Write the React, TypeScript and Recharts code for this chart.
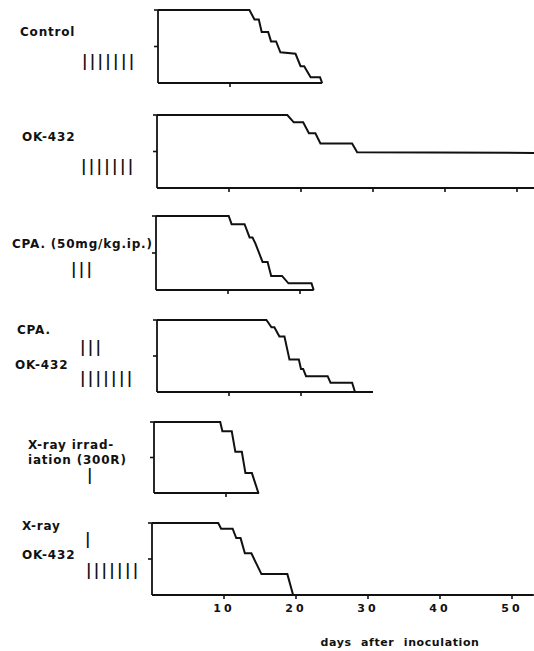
import React from 'react';
import { LineChart, Line, XAxis, YAxis } from 'recharts';

const FONT = '"DejaVu Sans", Verdana, sans-serif';
const INK = '#111';
const PX_PER_DAY = 7.2;

// survival (% alive), corner points of each step
const controlDays = [0, 12.7, 13.4, 14.0, 14.4, 15.3, 15.7, 16.4, 17.0, 19.1, 19.8, 20.3, 21.2, 22.5, 22.8];
const controlSurv = [100, 100, 87, 87, 70, 70, 57, 57, 42, 40, 23, 23, 8, 8, 0];

const okDays = [0, 18.1, 19.0, 20.3, 21.1, 22.0, 22.7, 27.1, 27.8, 52.4];
const okSurv = [100, 100, 90, 90, 75, 75, 61, 61, 49, 48];

const cpaDays = [0, 10.1, 10.5, 12.3, 13.0, 13.4, 13.8, 14.8, 15.5, 16.0, 17.5, 18.4, 21.6, 21.9];
const cpaSurv = [100, 100, 89, 89, 71, 71, 63, 38, 38, 19, 19, 9, 9, 0];

const cpaOkDays = [0, 15.2, 15.9, 16.3, 17.0, 17.7, 18.4, 19.7, 20.0, 20.3, 20.7, 23.7, 24.1, 27.1, 27.5];
const cpaOkSurv = [100, 100, 90, 90, 77, 77, 45, 45, 32, 32, 22, 22, 13, 13, 0];

const xrayDays = [0, 9.2, 9.5, 10.8, 11.3, 12.2, 12.7, 13.6, 14.5];
const xraySurv = [100, 100, 87, 87, 58, 58, 28, 28, 0];

const xrayOkDays = [0, 9.2, 9.6, 11.2, 11.7, 12.3, 12.9, 13.8, 15.2, 18.8, 19.6, 53];
const xrayOkSurv = [100, 100, 92, 92, 79, 79, 58, 58, 29, 29, 0, 0];

const dayTicks = [10, 20, 30, 40, 50];
const survTicks = [50, 100];

const regimenLabels = [
  { text: 'Control', x: 20, cy: 32 },
  { text: 'OK-432', x: 22, cy: 137 },
  { text: 'CPA. (50mg/kg.ip.)', x: 12, cy: 244 },
  { text: 'CPA.', x: 17, cy: 330 },
  { text: 'OK-432', x: 15, cy: 365 },
  { text: 'X-ray irrad-', x: 28, cy: 445 },
  { text: 'iation (300R)', x: 28, cy: 460 },
  { text: 'X-ray', x: 22, cy: 526 },
  { text: 'OK-432', x: 22, cy: 555 },
];

// number of treatment doses drawn as bars
const doseMarks = [
  { n: 7, x: 82, cy: 62.5 },
  { n: 7, x: 81, cy: 167.5 },
  { n: 3, x: 71, cy: 270 },
  { n: 3, x: 80, cy: 348.5 },
  { n: 7, x: 80, cy: 379.5 },
  { n: 1, x: 87, cy: 476.5 },
  { n: 1, x: 85, cy: 540 },
  { n: 7, x: 86, cy: 571 },
];

const toRows = (days: number[], surv: number[]) =>
  days.map((d, i) => ({ day: d, surv: surv[i] }));

const panels = [
  { id: 'control', days: controlDays, surv: controlSurv, axisX: 158, top: 10, bottom: 83, maxDay: 22.8, ticks: [10] },
  { id: 'ok', days: okDays, surv: okSurv, axisX: 157, top: 115, bottom: 188, maxDay: 52.4, ticks: dayTicks },
  { id: 'cpa', days: cpaDays, surv: cpaSurv, axisX: 156, top: 216, bottom: 290, maxDay: 21.9, ticks: [10, 20] },
  { id: 'cpaok', days: cpaOkDays, surv: cpaOkSurv, axisX: 157, top: 320, bottom: 392, maxDay: 30, ticks: [10, 20] },
  { id: 'xray', days: xrayDays, surv: xraySurv, axisX: 154, top: 422, bottom: 493, maxDay: 14.6, ticks: [10] },
  { id: 'xrayok', days: xrayOkDays, surv: xrayOkSurv, axisX: 152, top: 523, bottom: 595, maxDay: 53, ticks: dayTicks, labels: true },
];

const tickStyle = { fill: INK, fontSize: 11, fontWeight: 700, fontFamily: FONT, letterSpacing: 3 };
const tickLine = { stroke: INK, strokeWidth: 1.6 };
const noLabel = () => '';

function SurvivalPanel({ p }: any) {
  const yW = 8;
  const mTop = 4;
  const mRight = 2;
  const xH = p.labels ? 30 : 8;
  const width = yW + p.maxDay * PX_PER_DAY + mRight;
  const height = mTop + (p.bottom - p.top) + xH;
  return (
    <div style={{ position: 'absolute', left: p.axisX - yW, top: p.top - mTop }}>
      <LineChart
        width={width}
        height={height}
        data={toRows(p.days, p.surv)}
        margin={{ top: mTop, right: mRight, bottom: 0, left: 0 }}
      >
        <XAxis
          dataKey="day"
          type="number"
          domain={[0, p.maxDay]}
          ticks={p.ticks}
          interval={0}
          height={xH}
          tickSize={4}
          tickMargin={5}
          stroke={INK}
          strokeWidth={1.8}
          tickLine={tickLine}
          tick={tickStyle}
          tickFormatter={p.labels ? undefined : noLabel}
        />
        <YAxis
          type="number"
          domain={[0, 100]}
          ticks={survTicks}
          interval={0}
          width={yW}
          tickSize={4}
          stroke={INK}
          strokeWidth={1.8}
          tickLine={tickLine}
          tick={tickStyle}
          tickFormatter={noLabel}
        />
        <Line
          dataKey="surv"
          type="linear"
          stroke={INK}
          strokeWidth={2}
          dot={false}
          isAnimationActive={false}
        />
      </LineChart>
    </div>
  );
}

export default function App() {
  return (
    <div
      style={{
        position: 'absolute',
        left: 0,
        top: 0,
        width: 534,
        height: 651,
        overflow: 'hidden',
        background: '#fff',
        color: INK,
        fontFamily: FONT,
      }}
    >
      {panels.map((p) => (
        <SurvivalPanel key={p.id} p={p} />
      ))}
      {regimenLabels.map((l, i) => (
        <div
          key={'l' + i}
          style={{
            position: 'absolute',
            left: l.x,
            top: l.cy - 6.7,
            fontSize: 12,
            lineHeight: '14px',
            fontWeight: 700,
            letterSpacing: 0.8,
            whiteSpace: 'pre',
          }}
        >
          {l.text}
        </div>
      ))}
      {doseMarks.map((d, i) => (
        <div
          key={'d' + i}
          style={{
            position: 'absolute',
            left: d.x,
            top: d.cy - 9.2,
            fontSize: 15,
            lineHeight: '16px',
            fontWeight: 700,
            letterSpacing: 2.3,
            whiteSpace: 'pre',
          }}
        >
          {'|'.repeat(d.n)}
        </div>
      ))}
      <div
        style={{
          position: 'absolute',
          left: 300,
          width: 200,
          top: 636,
          textAlign: 'center',
          fontSize: 11,
          lineHeight: '13px',
          fontWeight: 700,
          letterSpacing: 0.6,
          wordSpacing: 5,
        }}
      >
        days after inoculation
      </div>
    </div>
  );
}
